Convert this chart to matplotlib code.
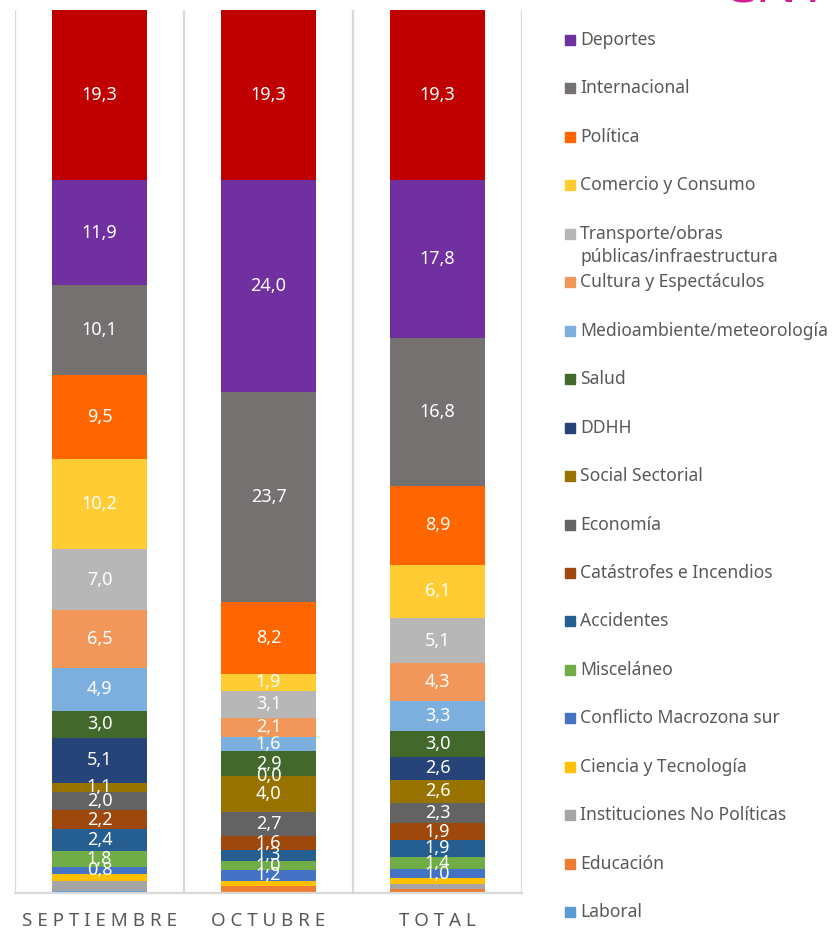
import matplotlib.pyplot as plt
from matplotlib.patches import Rectangle

plt.rcParams['font.family'] = ['Noto Sans', 'DejaVu Sans']

# Categories (x-axis)
months = ['SEPTIEMBRE', 'OCTUBRE', 'TOTAL']

# Series, bottom of the stack first (the red top series' legend entry is cut off in the source)
series = ['Laboral', 'Educación', 'Instituciones No Políticas', 'Ciencia y Tecnología',
          'Conflicto Macrozona sur', 'Misceláneo', 'Accidentes', 'Catástrofes e Incendios',
          'Economía', 'Social Sectorial', 'DDHH', 'Salud', 'Medioambiente/meteorología',
          'Cultura y Espectáculos', 'Transporte/obras\npúblicas/infraestructura',
          'Comercio y Consumo', 'Política', 'Internacional', 'Deportes', 'Policial']

# Values (%) per series: [septiembre, octubre, total]
laboral = [0.2, 0.0, 0.0]
educacion = [0.0, 0.8, 0.4]
instituciones = [1.2, 0.0, 0.6]
ciencia = [0.8, 0.6, 0.7]
conflicto = [0.8, 1.2, 1.0]
miscelaneo = [1.8, 1.0, 1.4]
accidentes = [2.4, 1.3, 1.9]
catastrofes = [2.2, 1.6, 1.9]
economia = [2.0, 2.7, 2.3]
social = [1.1, 4.0, 2.6]
ddhh = [5.1, 0.0, 2.6]
salud = [3.0, 2.9, 3.0]
medioambiente = [4.9, 1.6, 3.3]
cultura = [6.5, 2.1, 4.3]
transporte = [7.0, 3.1, 5.1]
comercio = [10.2, 1.9, 6.1]
politica = [9.5, 8.2, 8.9]
internacional = [10.1, 23.7, 16.8]
deportes = [11.9, 24.0, 17.8]
policial = [19.3, 19.3, 19.3]

values = [laboral, educacion, instituciones, ciencia, conflicto, miscelaneo, accidentes,
          catastrofes, economia, social, ddhh, salud, medioambiente, cultura, transporte,
          comercio, politica, internacional, deportes, policial]

colors = ['#5B9BD5', '#ED7D31', '#A5A5A5', '#FFC000', '#4472C4', '#70AD47', '#255E91',
          '#9E480E', '#636363', '#997300', '#264478', '#43682B', '#7CAFDD', '#F1975A',
          '#B7B7B7', '#FFCD33', '#FF6600', '#767171', '#7030A0', '#C00000']

# series without data labels in the original
no_label = {'Laboral', 'Educación', 'Instituciones No Políticas', 'Ciencia y Tecnología'}

W, H = 839, 933
fig = plt.figure(figsize=(W / 100, H / 100), dpi=100)
ax = fig.add_axes([15 / W, 1 - 893 / H, (522 - 15) / W, (893 - 10) / H])

x = list(range(len(months)))
bottom = [0.0] * len(months)
for name, vals, col in zip(series, values, colors):
    bars = ax.bar(x, vals, 0.56, bottom=bottom, color=col, linewidth=0)
    if name not in no_label:
        labels = [f'{v:.1f}'.replace('.', ',') for v in vals]
        ax.bar_label(bars, labels=labels, label_type='center', color='white', fontsize=13)
    bottom = [b + v for b, v in zip(bottom, vals)]

ax.set_xlim(-0.5, 2.5)
ax.set_ylim(0, 100)
for xv in [-0.5, 0.5, 1.5, 2.5]:
    ax.axvline(xv, color='#d9d9d9', lw=1.6, zorder=0)
for s in ['top', 'left', 'right']:
    ax.spines[s].set_visible(False)
ax.spines['bottom'].set_color('#d9d9d9')
ax.spines['bottom'].set_linewidth(1.6)
ax.set_yticks([])
ax.set_xticks(x)
ax.set_xticklabels([' '.join(m) for m in months], fontsize=13.5, color='#595959')
ax.tick_params(axis='x', length=0, pad=14)

# legend, top to bottom (red top series entry falls outside the image)
for i, k in enumerate(range(len(series) - 2, -1, -1)):
    yc = 40 + 48.45 * i
    nlines = series[k].count('\n') + 1
    fig.patches.append(Rectangle((565 / W, 1 - (yc + 5) / H), 10 / W, 10 / H,
                                 transform=fig.transFigure, color=colors[k]))
    fig.text(580 / W, 1 - (yc + 12 * (nlines - 1)) / H, series[k], fontsize=12.6,
             color='#595959', va='center', ha='left', linespacing=1.35)

# partially visible logo at the top right
fig.text(775 / W, 1 + 12 / H, 'CNT', fontsize=40, fontweight='heavy', color='#d41a98',
         ha='center', va='center')

fig.savefig('out.png', dpi=100)
